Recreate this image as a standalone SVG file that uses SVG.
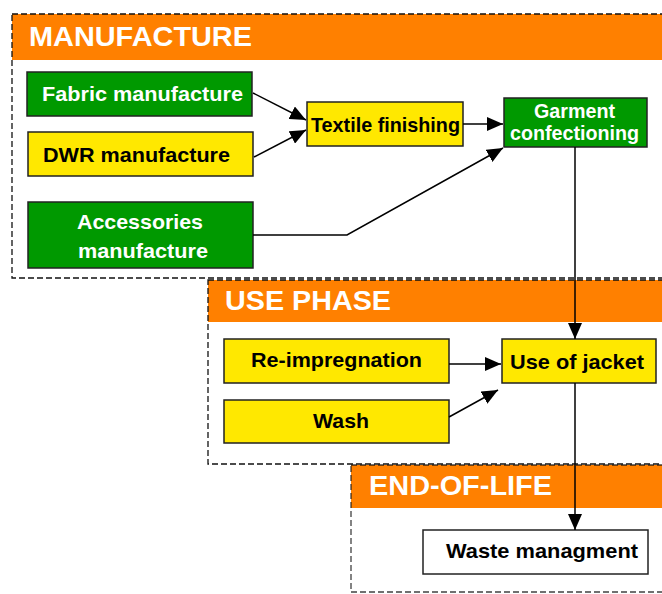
<svg xmlns="http://www.w3.org/2000/svg" width="662" height="594" viewBox="0 0 662 594">
<defs>
<marker id="arr" markerUnits="userSpaceOnUse" markerWidth="17" markerHeight="14" refX="16" refY="7" orient="auto">
<path d="M0,0 L16,7 L0,14 z" fill="#000"/>
</marker>
<style>
.sec{fill:none;stroke:#111;stroke-width:1.3;stroke-dasharray:6,3}
.hdr{fill:#FF8000}
.ht{font-family:"Liberation Sans",Arial,sans-serif;font-weight:bold;fill:#fff}
.g{fill:#009900;stroke:#222;stroke-width:1.5}
.y{fill:#FFE800;stroke:#222;stroke-width:1.5}
.w{fill:#fff;stroke:#222;stroke-width:1.5}
.tw{font-family:"Liberation Sans",Arial,sans-serif;font-weight:bold;font-size:20.5px;fill:#fff}
.tb{font-family:"Liberation Sans",Arial,sans-serif;font-weight:bold;font-size:20.5px;fill:#000}
.c{fill:none;stroke:#000;stroke-width:1.5;marker-end:url(#arr)}
</style>
</defs>
<rect width="662" height="594" fill="#fff"/>
<g id="manufacture-section">
<rect class="hdr" x="12" y="14" width="660" height="46"/>
<rect class="sec" x="12" y="14" width="680" height="264"/>
<text class="ht" x="29" y="46" font-size="28" textLength="223" lengthAdjust="spacingAndGlyphs">MANUFACTURE</text>
</g>
<g id="use-section">
<rect x="208" y="280" width="460" height="184" fill="#fff"/>
<rect class="hdr" x="208" y="280" width="460" height="42"/>
<rect class="sec" x="208" y="280" width="480" height="184"/>
<text class="ht" x="225" y="310" font-size="27" textLength="166" lengthAdjust="spacingAndGlyphs">USE PHASE</text>
</g>
<g id="eol-section">
<rect x="351" y="465" width="320" height="130" fill="#fff"/>
<rect class="hdr" x="351" y="465" width="320" height="43"/>
<rect class="sec" x="351" y="465" width="340" height="127" stroke-opacity="0.8"/>
<text class="ht" x="369" y="495" font-size="27" textLength="183" lengthAdjust="spacingAndGlyphs">END-OF-LIFE</text>
</g>
<g id="fabric">
<rect class="g" x="27" y="72" width="225" height="44"/>
<text class="tw" x="42" y="101" textLength="201" lengthAdjust="spacingAndGlyphs">Fabric manufacture</text>
</g>
<g id="dwr">
<rect class="y" x="28" y="132" width="225" height="44"/>
<text class="tb" x="43" y="162" textLength="187" lengthAdjust="spacingAndGlyphs">DWR manufacture</text>
</g>
<g id="accessories">
<rect class="g" x="28" y="202" width="225" height="66"/>
<text class="tw" x="77" y="229" textLength="126" lengthAdjust="spacingAndGlyphs">Accessories</text>
<text class="tw" x="78" y="258" textLength="130" lengthAdjust="spacingAndGlyphs">manufacture</text>
</g>
<g id="textile">
<rect class="y" x="307" y="102" width="156" height="44"/>
<text class="tb" x="311" y="132" font-size="19.5" textLength="149" lengthAdjust="spacingAndGlyphs">Textile finishing</text>
</g>
<g id="garment">
<rect class="g" x="504" y="98" width="143" height="49"/>
<text class="tw" x="534" y="118" font-size="19.5" textLength="81" lengthAdjust="spacingAndGlyphs">Garment</text>
<text class="tw" x="510" y="140" font-size="19.5" textLength="129" lengthAdjust="spacingAndGlyphs">confectioning</text>
</g>
<g id="reimp">
<rect class="y" x="224" y="339" width="225" height="44"/>
<text class="tb" x="251" y="367" textLength="171" lengthAdjust="spacingAndGlyphs">Re-impregnation</text>
</g>
<g id="wash">
<rect class="y" x="224" y="400" width="225" height="43"/>
<text class="tb" x="313" y="428" textLength="56" lengthAdjust="spacingAndGlyphs">Wash</text>
</g>
<g id="use">
<rect class="y" x="502" y="339" width="154" height="44"/>
<text class="tb" x="510" y="369" textLength="134" lengthAdjust="spacingAndGlyphs">Use of jacket</text>
</g>
<g id="waste">
<rect class="w" x="423" y="530" width="225" height="44"/>
<text class="tb" x="446" y="558" textLength="192" lengthAdjust="spacingAndGlyphs">Waste managment</text>
</g>
<g id="connectors">
<path class="c" d="M253,93 L306,120"/>
<path class="c" d="M254,157 L306,130"/>
<path class="c" d="M463,124 L503,124"/>
<path class="c" d="M253,235 L347,235 L503,148"/>
<path class="c" d="M575,147 L575,339"/>
<path class="c" d="M449,364 L501,364"/>
<path class="c" d="M449,417 L498,390"/>
<path class="c" d="M575,383 L575,530"/>
</g>
</svg>
